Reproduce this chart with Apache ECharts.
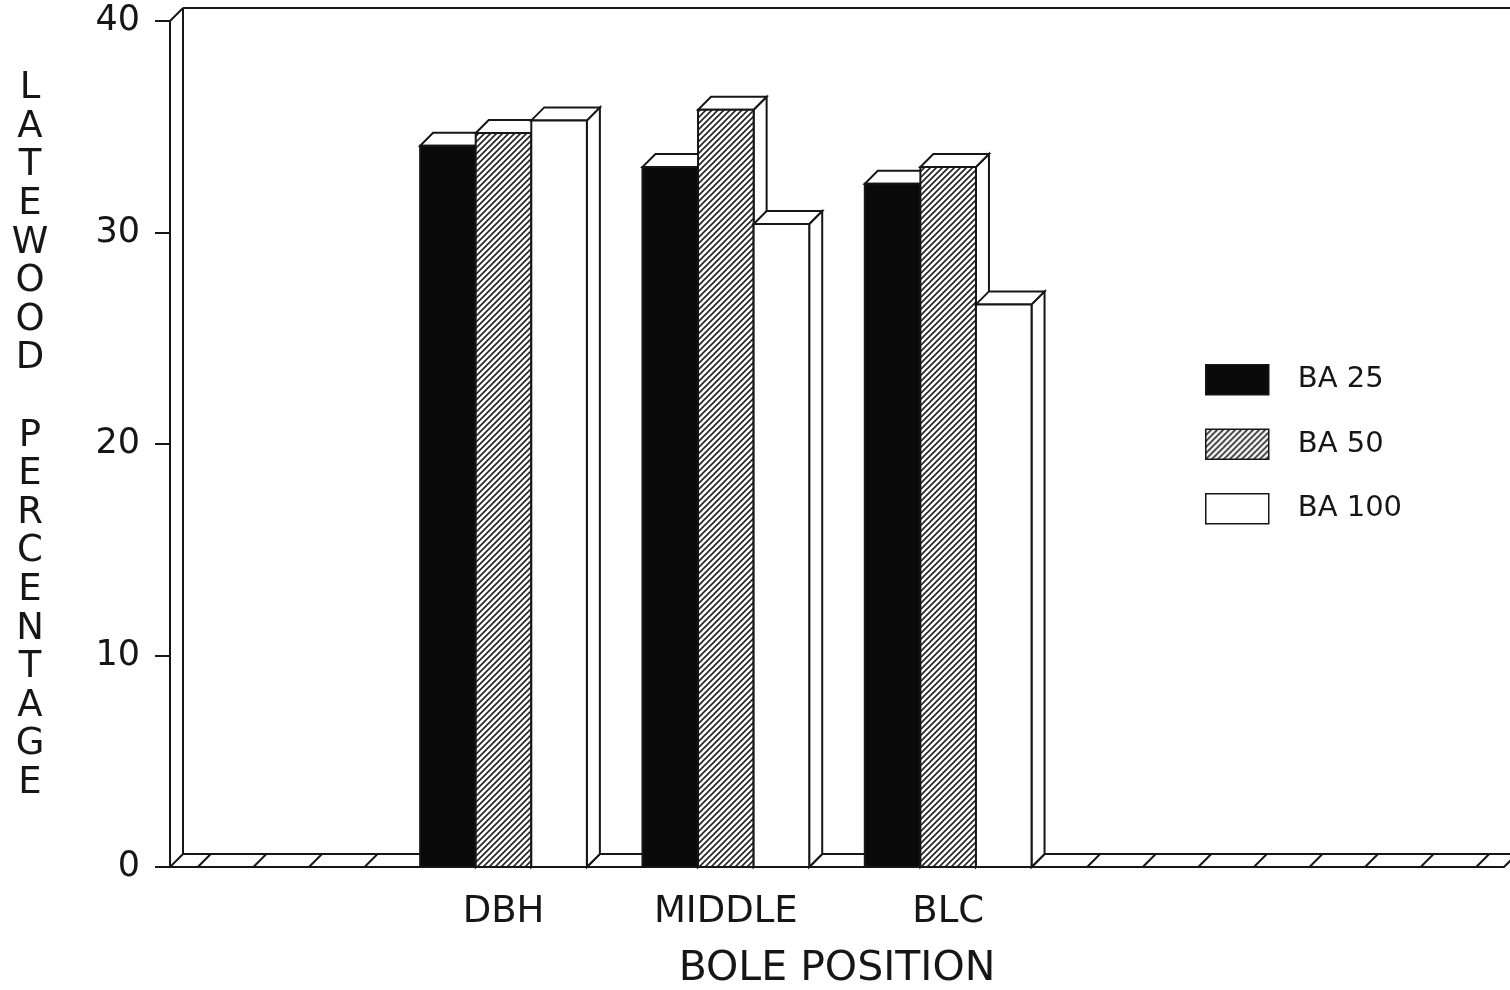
<!DOCTYPE html>
<html><head><meta charset="utf-8">
<script src="https://cdn.jsdelivr.net/npm/echarts@6/dist/echarts.min.js"></script>
<style>html,body{margin:0;padding:0;background:#fff}#c{width:1510px;height:990px}</style>
</head><body><div id="c"></div>
<script>
// ---- data ----
const categories = ['DBH', 'MIDDLE', 'BLC'];
const axisSlots = [' ', 'DBH', 'MIDDLE', 'BLC', '  ', '   '];
const seriesNames = ['BA 25', 'BA 50', 'BA 100'];
const ba25 = [34.1, 33.1, 32.3];
const ba50 = [34.7, 35.8, 33.1];
const ba100 = [35.3, 30.4, 26.6];
const yTickLabels = [0, 10, 20, 30, 40];
const yTitle = 'LATEWOOD PERCENTAGE';
const xTitle = 'BOLE POSITION';

// ---- styles ----
const FONT = 'DejaVu Sans';
const INK = '#161616';
const D = 13; // 3D depth offset

function makeHatch() {
  const s = 6, c = document.createElement('canvas');
  c.width = s; c.height = s;
  const g = c.getContext('2d');
  g.fillStyle = '#ffffff'; g.fillRect(0, 0, s, s);
  g.strokeStyle = '#222222'; g.lineWidth = 1.6;
  g.beginPath();
  g.moveTo(-1, s + 1); g.lineTo(s + 1, -1);
  g.moveTo(-1, 1); g.lineTo(1, -1);
  g.moveTo(s - 1, s + 1); g.lineTo(s + 1, s - 1);
  g.stroke();
  return { image: c, repeat: 'repeat' };
}
const hatch = makeHatch();
const fills = ['#0a0a0a', hatch, '#ffffff'];
const seriesValues = [ba25, ba50, ba100];

function barSeries(name, values, idx, fill) {
  return {
    type: 'custom', name: name, z: 2,
    data: categories.map((c, i) => [c, values[i]]),
    encode: { x: 0, y: 1 },
    itemStyle: { color: fill, borderColor: INK, borderWidth: 1.5 },
    renderItem: function (params, api) {
      const cat = api.value(0), v = api.value(1);
      const p = api.coord([cat, v]);
      const b = api.coord([cat, 0]);
      const cw = api.size([1, 0])[0];
      const bw = cw / 4;
      const x0 = p[0] - 1.5 * bw + idx * bw;
      const x1 = x0 + bw;
      const top = p[1], bot = b[1];
      const line = { stroke: INK, lineWidth: 2, lineJoin: 'miter' };
      return {
        type: 'group',
        children: [
          { type: 'polygon', shape: { points: [[x1, top], [x1 + D, top - D], [x1 + D, bot - D], [x1, bot]] },
            style: Object.assign({ fill: '#fff' }, line) },
          { type: 'polygon', shape: { points: [[x0, top], [x1, top], [x1 + D, top - D], [x0 + D, top - D]] },
            style: Object.assign({ fill: '#fff' }, line) },
          { type: 'rect', shape: { x: x0, y: top, width: bw, height: bot - top },
            style: Object.assign({ fill: fill }, line) }
        ]
      };
    }
  };
}

const frameSeries = {
  type: 'custom', name: 'frame', z: 1, silent: true,
  data: [[0, 0]],
  encode: { x: 0, y: 1 },
  renderItem: function (params, api) {
    const cs = params.coordSys;
    const L = cs.x, T = cs.y, R = cs.x + cs.width, B = cs.y + cs.height;
    const cw = api.size([1, 0])[0], slot = cw / 4;
    const st = { stroke: INK, lineWidth: 2, fill: null };
    const ch = [];
    const ln = (a, b2, c, d) => ch.push({ type: 'line', shape: { x1: a, y1: b2, x2: c, y2: d }, style: st });
    // back wall
    ln(L + D, T - D, R + D + 20, T - D);
    ln(L + D, T - D, L + D, B - D);
    // left wall top slant
    ln(L, T, L + D, T - D);
    // floor
    ln(L + D, B - D, R + D, B - D);
    ln(L, B, L + D, B - D);
    ln(R, B, R + D, B - D);
    for (let c = 0; c < axisSlots.length; c++) {
      for (let k = 0; k < 4; k++) {
        const x = L + c * cw + slot / 2 + k * slot;
        ln(x, B, x + D, B - D);
      }
    }
    return { type: 'group', children: ch };
  }
};

const chart = echarts.init(document.getElementById('c'), null, { renderer: 'canvas' });
chart.setOption({
  backgroundColor: '#ffffff',
  animation: false,
  grid: { left: 170, right: 6, top: 21, bottom: 123, containLabel: false, outerBoundsMode: 'none' },
  xAxis: {
    type: 'category', data: axisSlots, boundaryGap: true,
    axisLine: { lineStyle: { color: INK, width: 2 } },
    axisTick: { show: false },
    axisLabel: { fontFamily: FONT, fontSize: 37, color: INK, margin: 27, interval: 0 },
    name: xTitle, nameLocation: 'middle', nameGap: 82,
    nameTextStyle: { fontFamily: FONT, fontSize: 41, color: INK }
  },
  yAxis: {
    type: 'value', min: yTickLabels[0], max: yTickLabels[yTickLabels.length - 1], interval: 10,
    axisLine: { show: true, lineStyle: { color: INK, width: 2 } },
    axisTick: { show: true, length: 15, lineStyle: { color: INK, width: 2 } },
    splitLine: { show: false },
    axisLabel: { fontFamily: FONT, fontSize: 35, color: INK, margin: 30 }
  },
  legend: {
    orient: 'vertical', left: 1205, top: 364, padding: 0,
    itemWidth: 63, itemHeight: 30, itemGap: 33,
    icon: 'rect',
    textStyle: { fontFamily: FONT, fontSize: 29, color: INK, padding: [0, 0, 0, 24] },
    data: seriesNames.map((n, i) => ({ name: n, itemStyle: { color: fills[i], borderColor: INK, borderWidth: 1.5 } }))
  },
  graphic: [{
    type: 'text', x: 30, y: 436,
    style: {
      text: yTitle.split('').join('\n'),
      fontFamily: FONT, fontSize: 37, lineHeight: 38.6,
      fill: INK, textAlign: 'center', textVerticalAlign: 'middle'
    }
  }],
  series: [frameSeries].concat(seriesNames.map((n, i) => barSeries(n, seriesValues[i], i, fills[i])))
});
</script>
</body></html>
